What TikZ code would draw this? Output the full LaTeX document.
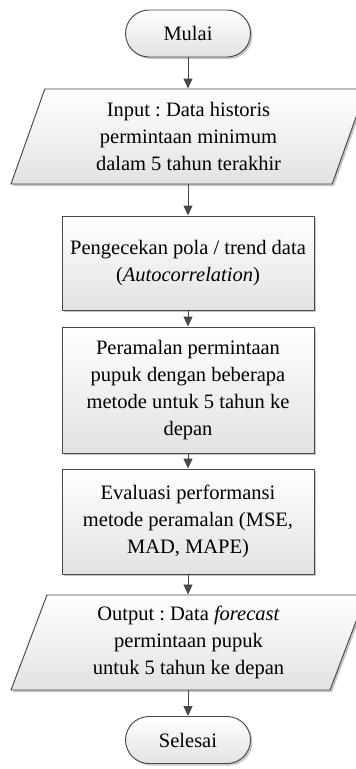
\documentclass[tikz,border=0pt]{standalone}
\usepackage{fontspec}
\setmainfont{Liberation Serif}
\usetikzlibrary{arrows.meta,shapes.misc,shapes.geometric,shadows}
\definecolor{linegray}{HTML}{484848}
\definecolor{boxgray}{HTML}{E2E2E2}
\frenchspacing
\begin{document}
\begin{tikzpicture}[x=1pt,y=1pt]
\tikzset{
  shapefill/.style={draw=linegray, line width=0.95pt, top color=white, bottom color=boxgray,
    drop shadow={shadow xshift=2pt, shadow yshift=-2pt, opacity=0.22, fill=black}},
  labelfont/.style={font=\fontsize{20.5}{27}\selectfont\frenchspacing, align=center, inner sep=0pt},
  terminal/.style={rounded rectangle, shapefill, labelfont, minimum width=125pt, minimum height=47pt},
  process/.style={rectangle, shapefill, labelfont, minimum width=252pt},
  io/.style={trapezium, trapezium left angle=63.7, trapezium right angle=116.3,
    trapezium stretches body=true, shapefill, labelfont,
    minimum width=355pt, minimum height=95pt},
  arrow/.style={draw=linegray, line width=0.95pt, -{Triangle[length=10pt,width=9pt]}},
}
\useasboundingbox (0,0) rectangle (356,-769);

\node[terminal] (start) at (188,-33.5) {Mulai};
\node[io] (input) at (188.5,-136.5) {Input : Data historis\\permintaan minimum\\dalam 5 tahun terakhir};
\node[process, minimum height=94pt] (check) at (188,-263) {Pengecekan pola / trend data\\(\textit{Autocorrelation})};
\node[process, minimum height=126pt] (forecast) at (188,-390) {Peramalan permintaan\\pupuk dengan beberapa\\metode untuk 5 tahun ke\\depan};
\node[process, minimum height=105pt] (eval) at (188,-521.5) {Evaluasi performansi\\metode peramalan (MSE,\\MAD, MAPE)};
\node[io] (output) at (188.5,-642.5) {Output : Data \textit{forecast}\\permintaan pupuk\\untuk 5 tahun ke depan};
\node[terminal] (stop) at (188,-740) {Selesai};

\draw[arrow] (start.south) -- (start.south |- input.north);
\draw[arrow] (input.south -| check.north) -- (check.north);
\draw[arrow] (check.south) -- (forecast.north);
\draw[arrow] (forecast.south) -- (eval.north);
\draw[arrow] (eval.south) -- (eval.south |- output.north);
\draw[arrow] (output.south -| stop.north) -- (stop.north);
\end{tikzpicture}
\end{document}
